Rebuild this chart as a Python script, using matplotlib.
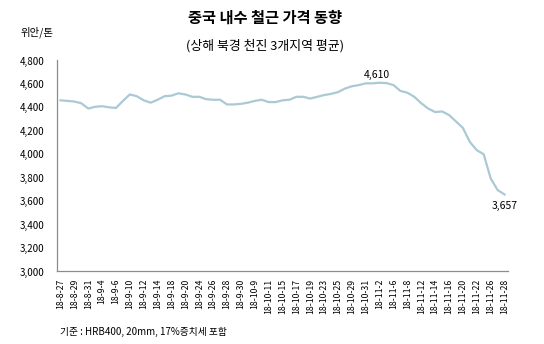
import matplotlib
matplotlib.use('Agg')
import matplotlib.pyplot as plt
from matplotlib.ticker import FuncFormatter

plt.rcParams['font.family'] = ['Noto Sans CJK KR', 'DejaVu Sans']

# ---- data ----
dates = ["18-8-27", "18-8-28", "18-8-29", "18-8-30", "18-8-31", "18-9-3", "18-9-4",
         "18-9-5", "18-9-6", "18-9-7", "18-9-10", "18-9-11", "18-9-12", "18-9-13",
         "18-9-14", "18-9-17", "18-9-18", "18-9-19", "18-9-20", "18-9-21", "18-9-24",
         "18-9-25", "18-9-26", "18-9-27", "18-9-28", "18-9-29", "18-9-30", "18-10-8",
         "18-10-9", "18-10-10", "18-10-11", "18-10-12", "18-10-15", "18-10-16",
         "18-10-17", "18-10-18", "18-10-19", "18-10-22", "18-10-23", "18-10-24",
         "18-10-25", "18-10-26", "18-10-29", "18-10-30", "18-10-31", "18-11-1",
         "18-11-2", "18-11-5", "18-11-6", "18-11-7", "18-11-8", "18-11-9",
         "18-11-12", "18-11-13", "18-11-14", "18-11-15", "18-11-16", "18-11-19",
         "18-11-20", "18-11-21", "18-11-22", "18-11-23", "18-11-26", "18-11-27",
         "18-11-28"]
prices = [4460, 4455, 4450, 4435, 4390, 4405, 4410, 4400, 4395, 4455,
          4510, 4495, 4460, 4440, 4465, 4495, 4500, 4520, 4510, 4490,
          4490, 4470, 4465, 4465, 4425, 4425, 4430, 4440, 4455, 4465,
          4445, 4445, 4460, 4465, 4490, 4490, 4475, 4490, 4505, 4515,
          4530, 4560, 4580, 4590, 4605, 4605, 4610, 4607, 4590, 4540,
          4525, 4490, 4435, 4390, 4360, 4365, 4335, 4280, 4225, 4105,
          4035, 4000, 3795, 3695, 3657]
label_idx = [46, 64]

# ---- figure ----
fig = plt.figure(figsize=(5.44, 3.44), dpi=100)
ax = fig.add_axes([0.1048, 0.2108, 0.8290, 0.6134])

x = list(range(len(prices)))
ax.plot(x, prices, color='#abc9d4', linewidth=1.6)

ax.set_xlim(-0.5, len(prices) - 0.5)
ax.set_ylim(3000, 4800)
ax.set_yticks(range(3000, 4801, 200))
ax.yaxis.set_major_formatter(FuncFormatter(lambda v, p: f"{int(v):,}"))
ax.set_xticks(x[::2])
ax.set_xticklabels(dates[::2], rotation=90, fontsize=6.3)
ax.tick_params(axis='x', length=0, pad=5)
ax.tick_params(axis='y', length=0, pad=9, labelsize=7)

for s in ['top', 'right']:
    ax.spines[s].set_visible(False)
for s in ['left', 'bottom']:
    ax.spines[s].set_color('#8c8c8c')
    ax.spines[s].set_linewidth(0.9)

# data labels
ax.annotate(f"{prices[label_idx[0]]:,}", (label_idx[0], prices[label_idx[0]]),
            xytext=(-2, 2), textcoords='offset points', ha='center', va='bottom', fontsize=7.5)
ax.annotate(f"{prices[label_idx[1]]:,}", (label_idx[1], prices[label_idx[1]]),
            xytext=(0, -5), textcoords='offset points', ha='center', va='top', fontsize=7.5)

# titles and notes
fig.text(0.487, 0.948, "중국 내수 철근 가격 동향", ha='center', va='center',
         fontsize=11, fontweight='bold')
fig.text(0.487, 0.868, "(상해 북경 천진 3개지역 평균)", ha='center', va='center', fontsize=9.3)
fig.text(0.037, 0.906, "위안/톤", ha='left', va='center', fontsize=7.5)
fig.text(0.110, 0.035, "기준 : HRB400, 20mm, 17%증치세 포함", ha='left', va='center', fontsize=7)

fig.savefig("out.png", dpi=100)
